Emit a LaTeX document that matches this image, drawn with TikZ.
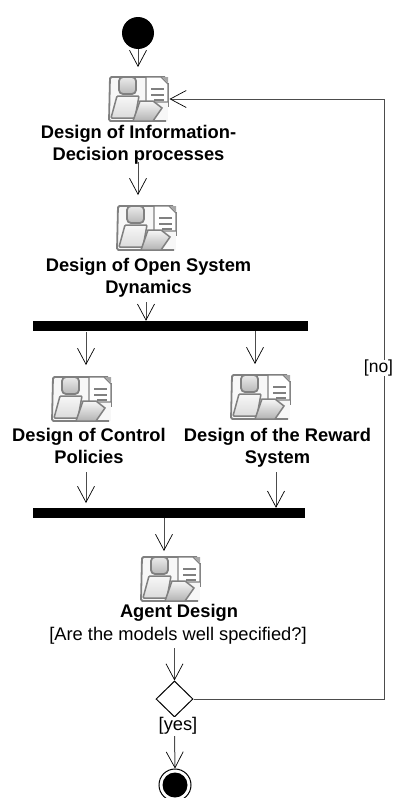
\documentclass[tikz,border=0pt]{standalone}
\usepackage{fontspec}
\setmainfont{Liberation Sans}
\usetikzlibrary{arrows.meta,shapes.geometric}
\definecolor{iconline}{gray}{0.5}
\tikzset{
  x=1pt,y=-1pt,
  flow/.style={draw=black!70,line width=1pt,-{Straight Barb[length=16pt,width=17pt,line width=0.7pt,black]}},
  bar/.style={fill=black,draw=none,inner sep=0pt,minimum height=10pt},
  lbl/.style={font=\bfseries\fontsize{18.3}{22}\selectfont,align=center,inner sep=0pt},
  grd/.style={font=\fontsize{18.3}{22}\selectfont,inner sep=0pt},
  pics/worker/.style={code={
    \fill[black!3] (0,0) rectangle (59,44);
    \draw[iconline,line width=1.8pt,rounded corners=1.5pt] (56,0) -- (1,0) -- (0,44) -- (57,44);
    \draw[iconline,line width=0.9pt] (59,6) -- (59,30);
    \draw[iconline,line width=1.1pt,fill=white] (37,0) -- (52,0) -- (59,7) -- (59,25) -- (37,25) -- cycle;
    \fill[black!35] (53,0) -- (59,0) -- (59,6) -- cycle;
    \draw[iconline,line width=1.3pt] (42,12) -- (55,12) (42,18) -- (55,18) (45,23) -- (55,23);
    \draw[iconline,line width=1.8pt,rounded corners=4pt,top color=black!8,bottom color=black!28] (10,0) rectangle (27,17);
    \draw[iconline,line width=1.5pt,rounded corners=1pt,top color=black!3,bottom color=black!14] (8,19) -- (30,19) -- (26,41) -- (2,41) -- cycle;
    \draw[iconline,line width=1.5pt,top color=black!3,bottom color=black!30] (31,24) -- (44,24) -- (53,31) -- (44,44) -- (24,44) -- cycle;
  }}
}
\begin{document}
\begin{tikzpicture}
\useasboundingbox (0,0) rectangle (393,798);
\clip (0,0) rectangle (393,798);
\node[circle,fill=black,minimum size=32pt,inner sep=0pt] (start) at (138,33) {};
\node[bar,minimum width=275pt] (fork) at (170.5,326) {};
\node[bar,minimum width=272pt] (join) at (169,513) {};
\pic at (109,77) {worker};
\pic at (117,206) {worker};
\pic at (52,377) {worker};
\pic at (231,375) {worker};
\pic at (141,557) {worker};
\node[lbl] (t1) at (138.5,145) {Design of Information-\\Decision processes};
\node[lbl] (t2) at (148.5,278) {Design of Open System\\Dynamics};
\node[lbl] (t3) at (89,446) {Design of Control\\Policies};
\node[lbl] (t4) at (277.5,448) {Design of the Reward\\System};
\node[lbl] (t5) at (179,613) {Agent Design};
\node[grd] (g) at (178,636) {[Are the models well specified?]};
\node[diamond,draw=black,line width=1pt,fill=white,minimum width=37pt,minimum height=36pt,inner sep=0pt] (dec) at (174.5,699) {};
\node[grd,fill=white] (yes) at (178,726) {[yes]};
\node[circle,draw=black,line width=1pt,minimum size=32pt,inner sep=0pt] (stop) at (175,785) {};
\node[circle,fill=black,minimum size=25pt,inner sep=0pt] at (stop) {};
\coordinate (a1) at (138,67);
\coordinate (b1) at (138,162); \coordinate (b2) at (138,195);
\coordinate (c1) at (146,302);
\coordinate (d1) at (86,332); \coordinate (d2) at (86,365);
\coordinate (e1) at (255,331); \coordinate (e2) at (255,364);
\coordinate (f1) at (86,472); \coordinate (f2) at (86,503);
\coordinate (h1) at (276,472);
\coordinate (k1) at (164,518); \coordinate (k2) at (164,551);
\coordinate (m1) at (174.5,648);
\coordinate (n1) at (174.5,736);
\coordinate (r1) at (384.5,699); \coordinate (r2) at (384.5,99); \coordinate (r3) at (169.5,99);
\draw[flow] (start.south) -- (a1);
\draw[flow] (b1) -- (b2);
\draw[flow] (c1) -- (c1 |- fork.north);
\draw[flow] (d1) -- (d2);
\draw[flow] (e1) -- (e2);
\draw[flow] (f1) -- (f2);
\draw[flow] (h1) -- (h1 |- join.north);
\draw[flow] (k1) -- (k2);
\draw[flow] (m1) -- (dec.north);
\draw[flow] (n1) -- (stop.north);
\draw[flow] (dec.east) -- (r1) -- (r2) -- (r3);
\node[font=\fontsize{17.5}{22}\selectfont,inner sep=0pt,fill=white] (no) at (378.5,368) {[no]};
\end{tikzpicture}
\end{document}
